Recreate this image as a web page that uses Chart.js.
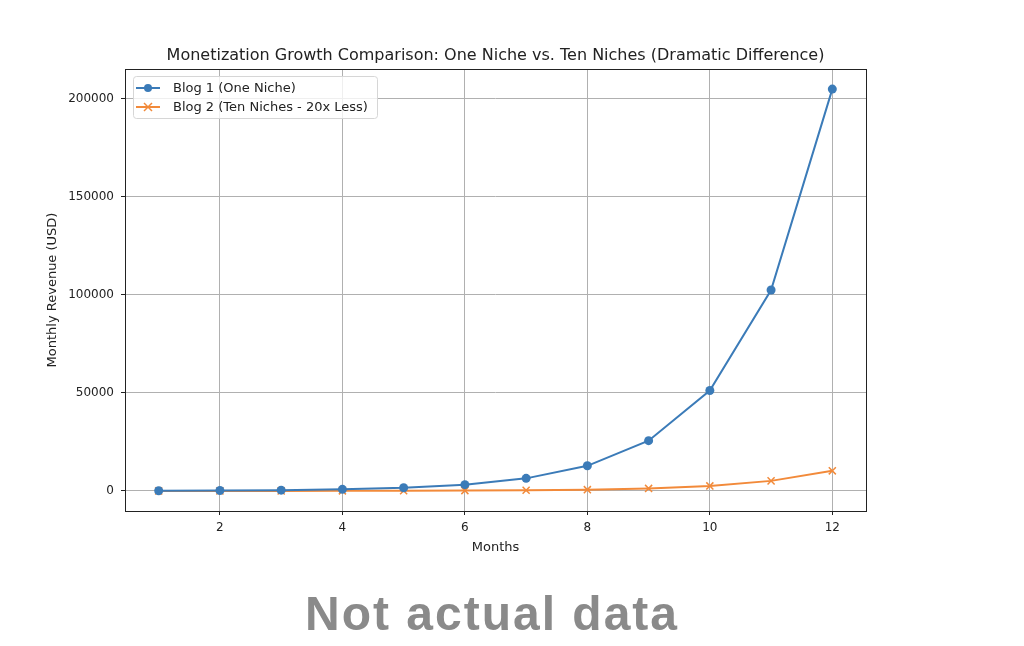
<!DOCTYPE html>
<html>
<head>
<meta charset="utf-8">
<script src="https://cdn.jsdelivr.net/npm/chart.js@4"></script>
<style>
  html, body { margin: 0; padding: 0; background: #fff; }
  #wrap { position: relative; width: 1024px; height: 646px; }
  #note {
    position: absolute; left: 0; width: 984px; top: 586px;
    text-align: center; font-family: "Liberation Sans", Arial, sans-serif;
    font-weight: bold; font-size: 48px; color: #8a8a8a; letter-spacing: 2px;
  }
</style>
</head>
<body>
<div id="wrap">
  <canvas id="chart" width="1024" height="646"></canvas>
  <div id="note">Not actual data</div>
</div>
<script>
const months = [1, 2, 3, 4, 5, 6, 7, 8, 9, 10, 11, 12];
const blog1 = [100, 200, 400, 800, 1600, 3200, 6400, 12800, 25600, 51200, 102400, 204800];
const blog2 = [5, 10, 20, 40, 80, 160, 320, 640, 1280, 2560, 5120, 10240];
const xTicks = [2, 4, 6, 8, 10, 12];
const yTicks = [0, 50000, 100000, 150000, 200000];
const seriesNames = ["Blog 1 (One Niche)", "Blog 2 (Ten Niches - 20x Less)"];
const chartTitle = "Monetization Growth Comparison: One Niche vs. Ten Niches (Dramatic Difference)";

const blue = "#3b7bb8";
const orange = "#f28a3a";
const font = "DejaVu Sans";

const decor = {
    id: "decor",
    afterDraw: (chart) => {
        const { ctx, chartArea: a } = chart;
        ctx.save();
        // frame
        ctx.strokeStyle = "#222";
        ctx.lineWidth = 1;
        ctx.strokeRect(a.left + 0.5, a.top + 0.5, a.right - a.left, a.bottom - a.top);
        // title
        ctx.fillStyle = "#222";
        ctx.font = "16px '" + font + "'";
        ctx.textAlign = "center";
        ctx.textBaseline = "middle";
        ctx.fillText(chartTitle, (a.left + a.right) / 2, 56);
        // legend
        const lx = a.left + 8, ly = a.top + 7, lw = 244, lh = 42;
        ctx.fillStyle = "rgba(255,255,255,0.8)";
        ctx.strokeStyle = "#d6d6d6";
        ctx.beginPath();
        ctx.roundRect(lx + 0.5, ly + 0.5, lw, lh, 3);
        ctx.fill();
        ctx.stroke();
        ctx.font = "13px '" + font + "'";
        ctx.textAlign = "left";
        const rows = [ly + 12, ly + 31];
        const cols = [blue, orange];
        rows.forEach((y, i) => {
            ctx.strokeStyle = cols[i];
            ctx.lineWidth = 2;
            ctx.beginPath();
            ctx.moveTo(lx + 3, y);
            ctx.lineTo(lx + 27, y);
            ctx.stroke();
            if (i === 0) {
                ctx.fillStyle = blue;
                ctx.beginPath();
                ctx.arc(lx + 15, y, 4, 0, Math.PI * 2);
                ctx.fill();
            } else {
                ctx.lineWidth = 1.5;
                ctx.beginPath();
                ctx.moveTo(lx + 11, y - 4); ctx.lineTo(lx + 19, y + 4);
                ctx.moveTo(lx + 11, y + 4); ctx.lineTo(lx + 19, y - 4);
                ctx.stroke();
            }
            ctx.fillStyle = "#222";
            ctx.fillText(seriesNames[i], lx + 40, y + 1);
        });
        ctx.restore();
    },
};

new Chart(document.getElementById("chart"), {
    type: "line",
    data: {
        datasets: [
            {
                label: seriesNames[0],
                data: months.map((m, i) => ({ x: m, y: blog1[i] })),
                borderColor: blue,
                backgroundColor: blue,
                borderWidth: 2,
                pointStyle: "circle",
                pointRadius: 4.5,
                pointBorderWidth: 0,
                tension: 0,
            },
            {
                label: seriesNames[1],
                data: months.map((m, i) => ({ x: m, y: blog2[i] })),
                borderColor: orange,
                backgroundColor: orange,
                borderWidth: 2,
                pointStyle: "cross",
                pointRotation: 45,
                pointRadius: 5,
                pointBorderWidth: 1.5,
                tension: 0,
            },
        ],
    },
    options: {
        responsive: false,
        animation: false,
        layout: { padding: { left: 40, right: 158, top: 69, bottom: 91 } },
        plugins: { legend: false, title: false, tooltip: false },
        scales: {
            x: {
                type: "linear",
                min: 0.45,
                max: 12.55,
                afterBuildTicks: (s) => { s.ticks = xTicks.map((v) => ({ value: v })); },
                afterFit: (s) => { s.height = 44; },
                grid: { color: "#b0b0b0", tickColor: "#222", tickLength: 4, drawTicks: true },
                border: { display: false },
                ticks: { color: "#222", font: { family: font, size: 12 }, padding: 6, maxRotation: 0 },
                title: { display: true, text: "Months", color: "#222", font: { family: font, size: 13 }, padding: 0 },
            },
            y: {
                type: "linear",
                min: -10235,
                max: 215040,
                afterBuildTicks: (s) => { s.ticks = yTicks.map((v) => ({ value: v })); },
                afterFit: (s) => { s.width = 85; },
                grid: { color: "#b0b0b0", tickColor: "#222", tickLength: 4 },
                border: { display: false },
                ticks: { color: "#222", font: { family: font, size: 12 }, padding: 7, callback: (v) => String(v) },
                title: { display: true, text: "Monthly Revenue (USD)", color: "#222", font: { family: font, size: 13 }, padding: { top: 5 } },
            },
        },
    },
    plugins: [decor],
});
</script>
</body>
</html>
